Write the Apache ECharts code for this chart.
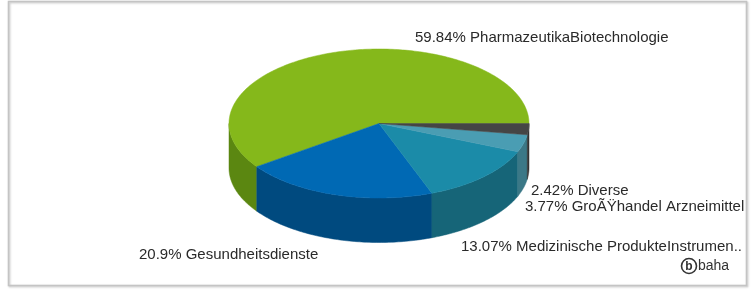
<!DOCTYPE html>
<html>
<head>
<meta charset="utf-8">
<script src="https://cdn.jsdelivr.net/npm/echarts@6/dist/echarts.min.js"></script>
<style>html,body{margin:0;padding:0;background:#fff}#c{width:754px;height:291px}</style>
</head>
<body>
<div id="c"></div>
<script>
// ---- data ----
const categories = ['PharmazeutikaBiotechnologie', 'Gesundheitsdienste', 'Medizinische ProdukteInstrumen..', 'GroÃŸhandel Arzneimittel', 'Diverse'];
const values = [59.84, 20.9, 13.07, 3.77, 2.42];
const percentLabels = ['59.84%', '20.9%', '13.07%', '3.77%', '2.42%'];

// ---- styles / layout ----
const topColors = ['#85b81b', '#0069b4', '#1b8ba8', '#4a9db3', '#454545'];
const sideColors = ['#5b8711', '#004a7f', '#166578', '#3b7887', '#333333'];
const labelPos = [[415, 38], [139, 255], [461, 247], [525, 207], [531, 191]];
const geo = { cx: 379, cy: 123.5, rx: 150, ry: 74.5, depth: 44.5 };

const total = values.reduce((s, v) => s + v, 0);
const angles = [];
let acc = 0;
values.forEach(v => {
  const a = acc / total * Math.PI * 2;
  acc += v;
  angles.push([a, acc / total * Math.PI * 2]);
});

function pt(t, dy) {
  return [geo.cx + geo.rx * Math.cos(t), geo.cy - geo.ry * Math.sin(t) + (dy || 0)];
}

function sideItem(params) {
  const i = params.dataIndex;
  const lo = Math.max(angles[i][0], Math.PI), hi = Math.min(angles[i][1], Math.PI * 2);
  if (lo >= hi) return { type: 'group', children: [] };
  const n = 80, pts = [];
  for (let k = 0; k <= n; k++) pts.push(pt(lo + (hi - lo) * k / n));
  for (let k = n; k >= 0; k--) pts.push(pt(lo + (hi - lo) * k / n, geo.depth));
  return { type: 'polygon', shape: { points: pts }, style: { fill: sideColors[i], stroke: sideColors[i], lineWidth: 0.5 } };
}

function topItem(params) {
  const i = params.dataIndex;
  const [a, b] = angles[i];
  const n = Math.max(8, Math.ceil((b - a) * 60)), pts = [[geo.cx, geo.cy]];
  for (let k = 0; k <= n; k++) pts.push(pt(a + (b - a) * k / n));
  return { type: 'polygon', shape: { points: pts }, style: { fill: topColors[i], stroke: topColors[i], lineWidth: 0.5 } };
}

const dataIdx = values.map((v, i) => [i, v]);
const labelFont = '15px "Liberation Sans", Arial, sans-serif';

const graphics = [
  { type: 'rect', shape: { x: 8.5, y: 1.5, width: 738, height: 284 }, style: { fill: 'none', stroke: '#c4c4c4', lineWidth: 1.5, shadowColor: 'rgba(0,0,0,0.25)', shadowBlur: 2, shadowOffsetX: 1, shadowOffsetY: 1 }, z: 0 },
  { type: 'circle', shape: { cx: 689, cy: 266, r: 7.5 }, style: { fill: 'none', stroke: '#333', lineWidth: 1.6 }, z: 10 },
  { type: 'text', x: 689, y: 266.5, style: { text: 'b', font: 'bold 12px "Liberation Sans", Arial, sans-serif', fill: '#333', align: 'center', verticalAlign: 'middle' }, z: 10 },
  { type: 'text', x: 698, y: 266.5, style: { text: 'baha', font: '14px "Liberation Sans", Arial, sans-serif', fill: '#333', align: 'left', verticalAlign: 'middle' }, z: 10 }
];
categories.forEach((c, i) => {
  graphics.push({ type: 'text', x: labelPos[i][0], y: labelPos[i][1], style: { text: percentLabels[i] + ' ' + c, font: labelFont, fill: '#2a2a2a', align: 'left', verticalAlign: 'middle' }, z: 10 });
});

const chart = echarts.init(document.getElementById('c'), null, { renderer: 'canvas' });
chart.setOption({
  animation: false,
  backgroundColor: '#fff',
  graphic: graphics,
  series: [
    { type: 'custom', coordinateSystem: 'none', renderItem: sideItem, data: dataIdx, z: 2, silent: true },
    { type: 'custom', coordinateSystem: 'none', renderItem: topItem, data: dataIdx, z: 3, silent: true }
  ]
});
</script>
</body>
</html>
